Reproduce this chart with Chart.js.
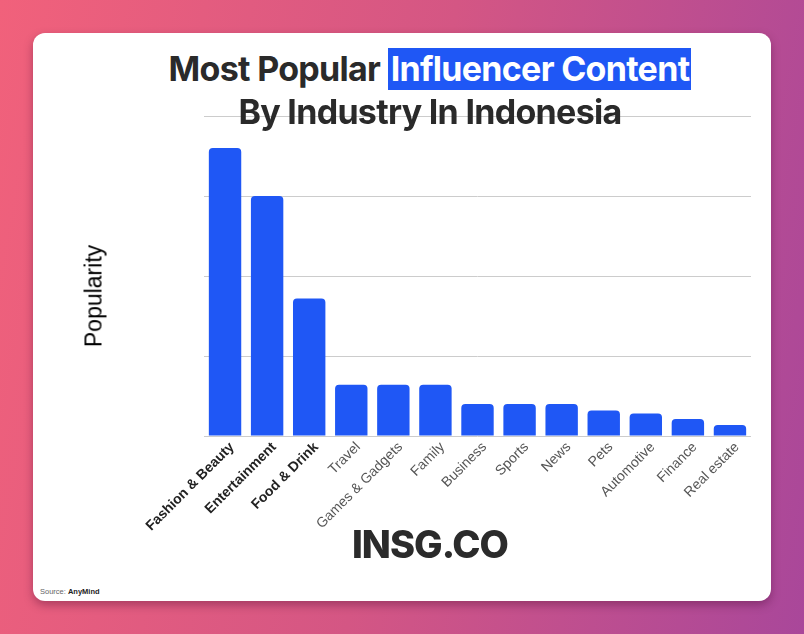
<!DOCTYPE html>
<html>
<head>
<meta charset="utf-8">
<script src="https://cdn.jsdelivr.net/npm/chart.js@4.4.1/dist/chart.umd.min.js"></script>
<style>
  html, body { margin: 0; padding: 0; }
  body {
    width: 804px; height: 634px; overflow: hidden; position: relative;
    background: linear-gradient(100deg, #f1617b 0%, #d45684 50%, #a9479a 100%);
    font-family: "Liberation Sans", Arial, sans-serif;
  }
  .card {
    position: absolute; left: 33px; top: 33px; width: 738px; height: 568px;
    background: #fff; border-radius: 12px;
    box-shadow: 0 4px 10px rgba(60, 0, 40, 0.35);
  }
  #chartWrap { position: absolute; left: 70px; top: 100px; width: 690px; height: 436px; }
  .title {
    position: absolute; left: 100px; width: 660px; text-align: center;
    font-family: Inter, sans-serif; font-weight: 700; font-size: 34px;
    letter-spacing: -0.7px; color: #2a2a2a; line-height: 42px;
  }
  .title .hl { background: #1f57f5; color: #fff; padding: 0 2px 1px 3px; }
  .ytitle {
    position: absolute; left: 94px; top: 296px; transform: translate(-50%, -50%) rotate(-90deg);
    font-size: 23px; color: #000; white-space: nowrap;
  }
  .brand {
    position: absolute; left: 330px; width: 200px; top: 521px; text-align: center;
    font-family: Inter, sans-serif; font-weight: 800; font-size: 38px;
    letter-spacing: -1px; color: #2b2b2b;
  }
  .source { position: absolute; left: 40px; top: 587px; font-size: 7.5px; color: #666; }
  .source b { color: #222; }
</style>
</head>
<body>
<div class="card"></div>
<div id="chartWrap"><canvas id="chart"></canvas></div>
<div class="title" style="top:48px">Most Popular <span class="hl">Influencer Content</span></div>
<div class="title" style="top:91px">By Industry In Indonesia</div>
<div class="ytitle">Popularity</div>
<div class="brand">INSG.CO</div>
<div class="source">Source: <b>AnyMind</b></div>
<script>
// Popularity by content category (0–100 scale)
const categories = ['Fashion & Beauty', 'Entertainment', 'Food & Drink', 'Travel', 'Games & Gadgets',
  'Family', 'Business', 'Sports', 'News', 'Pets', 'Automotive', 'Finance', 'Real estate'];
const popularity = [90, 75, 43, 16, 16, 16, 10, 10, 10, 8, 7, 5.3, 3.4];
const boldCount = 3; // top three labels are bold

const BLUE = '#1f57f5';

// eslint-disable-next-line no-undef
new Chart(document.getElementById('chart'), {
  type: 'bar',
  data: {
    labels: categories,
    datasets: [{
      data: popularity,
      backgroundColor: BLUE,
      borderRadius: { topLeft: 4, topRight: 4 },
      borderSkipped: 'start',
      categoryPercentage: 1,
      barPercentage: 0.77,
    }]
  },
  options: {
    responsive: true, maintainAspectRatio: false, animation: false,
    layout: { padding: { top: 16, right: 9, bottom: 0, left: 0 } },
    plugins: { legend: { display: false }, tooltip: { enabled: false } },
    scales: {
      x: {
        grid: { display: false },
        border: { display: false },
        afterFit: s => { s.height = 100; },
        ticks: {
          autoSkip: false, minRotation: 45, maxRotation: 45, padding: -5, labelOffset: 7,
          color: ctx => ctx.index < boldCount ? '#222' : '#555',
          font: ctx => ({ family: '"Liberation Sans", Arial, sans-serif', size: 14,
            weight: ctx.index < boldCount ? 'bold' : 'normal' })
        }
      },
      y: {
        min: 0, max: 100,
        afterFit: s => { s.width = 134; },
        grid: { color: '#cccccc', drawTicks: false, lineWidth: 1 },
        border: { display: false },
        ticks: { display: false, stepSize: 25 }
      }
    }
  }
});
</script>
</body>
</html>
